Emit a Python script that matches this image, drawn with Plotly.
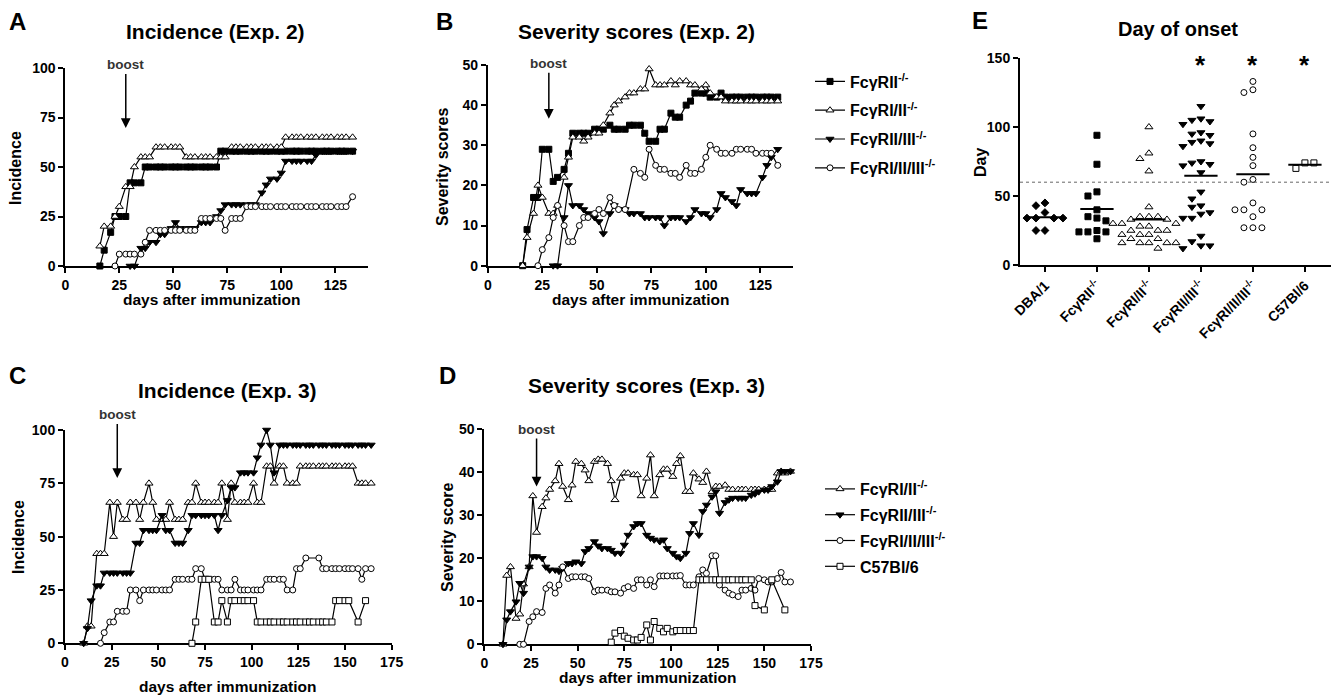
import numpy as np
import plotly.graph_objects as go

# The page body has an 8 px margin; the figure is offset by it, so every
# reference pixel position is shifted by that margin (figure fills to the
# window's right/bottom edges).
W, H = 1339, 697
OFF = 8
FW, FH = W - OFF, H - OFF
FONT = "Liberation Sans, Arial, Helvetica, sans-serif"

def fx(p):
    return (p - OFF) / FW

def fy(p):
    return 1 - (p - OFF) / FH

def dom(a, b):
    return [max(0.0, min(1.0, a)), max(0.0, min(1.0, b))]

# ---------------- DATA ----------------
# Experiment 2 (panels A, B)
days2 = [16, 18, 21, 23, 25, 28, 30, 32, 35, 37,
         39, 42, 44, 46, 49, 51, 53, 56, 58, 60,
         63, 65, 67, 70, 72, 74, 77, 79, 81, 84,
         86, 88, 91, 93, 95, 98, 100, 102, 105, 107,
         109, 112, 114, 116, 119, 121, 123, 126, 128, 130,
         133]

inc2_RII = [0, 8, 17, 25, 25, 25, 42, 42, 42, 50,
            50, 50, 50, 50, 50, 50, 50, 50, 50, 50,
            50, 50, 50, 50, 58, 58, 58, 58, 58, 58,
            58, 58, 58, 58, 58, 58, 58, 58, 58, 58,
            58, 58, 58, 58, 58, 58, 58, 58, 58, 58,
            58]
inc2_RI_II = [10, 20, 20, 25, 30, 40, 40, 50, 55, 55,
              55, 60, 60, 60, 60, 60, 60, 55, 55, 55,
              55, 55, 55, 55, 55, 55, 60, 60, 60, 60,
              60, 60, 60, 60, 60, 60, 60, 65, 65, 65,
              65, 65, 65, 65, 65, 65, 65, 65, 65, 65,
              65]
inc2_RII_III = [None, None, None, None, None, None, 0, 0, 9, 9,
                12, 12, 16, 16, 19, 22, 19, 19, 19, 19,
                22, 22, 22, 25, 28, 31, 31, 31, 31, 31,
                31, 31, 37, 41, 44, 44, 47, 53, 53, 53,
                53, 53, 53, 56, 58, 58, 58, 58, 58, 58,
                58]
inc2_RI_II_III = [None, None, None, 0, 6, 6, 6, 6, 6, 12,
                  18, 18, 18, 18, 18, 18, 18, 18, 18, 18,
                  24, 24, 24, 24, 24, 18, 24, 24, 24, 30,
                  30, 30, 30, 30, 30, 30, 30, 30, 30, 30,
                  30, 30, 30, 30, 30, 30, 30, 30, 30, 30,
                  35]

sev2_RII = [0, 9, 17, 17, 29, 29, 21, 22, 24, 28,
            33, 33, 33, 33, 34, 34, 34, 35, 34, 34,
            34, 35, 35, 35, 33, 31, 31, 34, 34, 38,
            37, 37, 40, 41, 43, 43, 43, 42, 42, 43,
            42, 42, 42, 42, 42, 42, 42, 42, 42, 42,
            42]
sev2_RI_II = [0, 7, 13, 20, 17, 13, 13, 15, 22, 27,
              32, 32, 31, 32, 33, 33, 35, 38, 40, 41,
              42, 43, 43, 44, 44, 49, 45, 45, 45, 46,
              45, 46, 46, 45, 45, 44, 45, 43, 42, 42,
              41, 41, 41, 41, 41, 41, 41, 41, 41, 41,
              41]
sev2_RII_III = [None, None, None, None, None, None, 0, 0, 12, 20,
                15, 15, 14, 13, 12, 11, 8, 13, 15, 14,
                14, 13, 13, 13, 12, 12, 12, 12, 10, 12,
                12, 12, 11, 12, 14, 13, 13, 12, 14, 18,
                17, 16, 15, 19, 18, 18, 18, 22, 25, 27,
                29]
sev2_RI_II_III = [None, None, None, 0, 4, 7, 12, 15, 10, 6,
                  6, 10, 12, 12, 13, 14, 13, 17, 15, 14,
                  14, None, 24, 23, 22, 29, 25, 24, 24, 23,
                  23, 22, 25, 23, 23, 24, 27, 30, 29, 28,
                  28, 28, 29, 29, 29, 29, 28, 28, 28, 28,
                  25]

# Experiment 3 (panels C, D)
days3 = [10, 12, 14, 17, 19, 21, 24, 26, 28, 31,
         33, 35, 38, 40, 42, 45, 47, 49, 52, 54,
         56, 59, 61, 63, 66, 68, 70, 73, 75, 77,
         80, 82, 84, 87, 89, 91, 94, 96, 98, 101,
         103, 105, 108, 110, 112, 115, 117, 119, 122, 124,
         126, 129, 131, 133, 136, 138, 140, 143, 145, 147,
         150, 152, 154, 157, 159, 161, 164]

inc3_RI_II = [0, 8, 8, 42, 42, 42, 66, 50, 66, 58,
              58, 66, 66, 58, 66, 75, 66, 58, 58, 58,
              66, 58, 58, 58, 66, 66, 75, 66, 66, 66,
              66, 66, 75, 58, 75, 66, 66, 66, 66, 75,
              66, 66, 83, 83, 75, 83, 83, 75, 75, 75,
              83, 83, 83, 83, 83, 83, 83, 83, 83, 83,
              83, 83, 83, 75, 75, 75, 75]
inc3_RII_III = [0, 7, 20, 27, 27, 33, 33, 33, 33, 33,
                33, 33, 47, 47, 53, 53, 53, 53, 60, 53,
                53, 47, 47, 47, 53, 60, 60, 60, 60, 60,
                60, 53, 60, 67, 73, 73, 80, 80, 80, 80,
                87, 93, 100, 93, 80, 93, 93, 93, 93, 93,
                93, 93, 93, 93, 93, 93, 93, 93, 93, 93,
                93, 93, 93, 93, 93, 93, 93]
inc3_RI_II_III = [None, None, None, None, 0, 5, 10, 10, 15, 15,
                  15, 25, 25, 20, 25, 25, 25, 25, 25, 25,
                  25, 30, 30, 30, 30, 30, 35, 35, 30, 30,
                  30, 30, 25, 25, 25, 30, 25, 25, 25, 25,
                  25, 25, 30, 30, 30, 30, 30, 25, 25, 35,
                  35, 40, None, None, 40, 35, 35, 35, 35, 35,
                  35, 35, 35, 35, 30, 35, 35]
inc3_C57 = [None, None, None, None, None, None, None, None, None, None,
            None, None, None, None, None, None, None, None, None, None,
            None, None, None, None, None, 0, 10, 30, 30, 30,
            10, 10, 20, 10, 20, 20, 20, 20, 20, 20,
            10, 10, 10, 10, 10, 10, 10, 10, 10, 10,
            10, 10, 10, 10, 10, 10, 10, 10, 20, 20,
            20, 20, None, 10, None, 20, None]

sev3_RI_II = [0, 16, 18, 6, 7, 14, 18, 34.5, 26, 32,
              34, 36, 38, 42, 36.7, 33.6, 37, 42.5, 42, 40.5,
              38, 42.5, 43, 43, 42, 38, 33.6, 38.6, 39.8, 39.8,
              39.4, 39.4, 34.5, 38.6, 44, 34.5, 39.4, 40.7, 40.7, 39,
              42, 43.8, 35.5, 35.5, 39.8, 38.4, 37.6, 40.2, 35.5, 36.7,
              36.7, 37, 36, 36, 36, 36, 36, 36, 36, 36,
              36, 36, 36, 39.8, 40.2, 39.8, 40.2]
sev3_RII_III = [0, 5.7, 7.6, 9.9, 14.2, 11.9, 18, 20.4, 20.4, 20,
                18, 17.3, 17.3, 17, 17.7, 18.8, 18.8, 19.2, 18.8, 21.6,
                22.3, 23.9, 22.9, 22.3, 22.3, 21.9, 21.2, 21.2, 23.1, 25.4,
                27.4, 28.1, 28.1, 25.4, 24.7, 24.3, 23.9, 24.3, 22.3, 21.2,
                20.4, 20, 21.2, 25.8, 28.1, 25.4, 30.9, 32.4, 34.3, 35.5,
                30.5, 33, 33.6, 34, 34, 34, 34, 34.7, 35, 35.5,
                35.9, 35.9, 36.7, 37.8, 40.2, 40.2, 40.2]
sev3_RI_II_III = [None, None, None, None, 0, 0, 5.3, 6.4, 7.6, 7.4,
                  13, 13.8, 11.9, 13.8, 18, 15.3, 15.7, 15.7, 15.7, 15.7,
                  15.3, 12.2, 12.6, 12.6, 12.6, 12.2, 12.2, 11.9, 13, 13.4,
                  13, 15, 15, 13.8, 15, 13.4, 15.9, 15.9, 15.9, 15.9,
                  15.9, 16, 13.8, 13.8, 13.8, 15.7, 17.3, 16.5, 20.6, 20.6,
                  13.8, 12.6, 11.9, 11.5, 11.1, 12.6, 12.6, 13, 12.6, 15.3,
                  15, 14.5, 14.5, 15.3, 16.7, 14.5, 14.5]
sev3_C57 = [None, None, None, None, None, None, None, None, None, None,
            None, None, None, None, None, None, None, None, None, None,
            None, None, None, None, None, 0.5, 2.6, 3.2, 1.9, 1.4,
            1, 1, 1.6, 4.5, 1, 5.3, 3.7, 2.9, 3.7, 2.9,
            3.2, 3.2, 3.2, 3.2, 3.2, 15, 15, 15, 15, 15,
            15, 15, 15, 15, 15, 15, 15, 15, 9, None,
            8, None, 15, None, None, 8, None]

# Panel E: day of onset per strain
onset_groups = ["DBA/1", "FcγRII<sup>-/-</sup>", "FcγRI/II<sup>-/-</sup>",
                "FcγRII/III<sup>-/-</sup>", "FcγRI/II/III<sup>-/-</sup>", "C57Bl/6"]
onset_DBA = [45, 43, 38, 34, 34, 34, 34, 25, 25]
onset_RII = [94, 73, 53, 50, 40, 35, 34, 32, 25, 24, 24, 24, 19]
onset_RI_II = [100, 81, 77, 68, 42, 35, 35, 35, 33, 33, 30, 30, 30, 28, 28,
               25, 25, 25, 22, 22, 22, 19, 19, 16, 16, 16, 16, 16, 12]
onset_RII_III = [115, 106, 105, 104, 102, 96, 95, 94, 90, 89, 88, 86, 75, 74, 73,
                 72, 67, 53, 48, 43, 42, 38, 37, 34, 34, 21, 17, 14, 14, 12]
onset_RI_II_III = [133, 127, 125, 95, 85, 78, 72, 62, 60, 45, 40, 40, 40, 35, 27, 27, 27]
onset_C57 = [74, 70, 74]
onset_significant = [False, False, False, True, True, True]
onset_threshold = 60

# ---------------- STYLES ----------------
NAMES = {
    "RII": "FcγRII<sup>-/-</sup>",
    "RI_II": "FcγRI/II<sup>-/-</sup>",
    "RII_III": "FcγRII/III<sup>-/-</sup>",
    "RI_II_III": "FcγRI/II/III<sup>-/-</sup>",
    "C57": "C57Bl/6",
}
MK = {
    "RII": dict(symbol="square", size=6, color="black", line=dict(color="black", width=1)),
    "RI_II": dict(symbol="triangle-up", size=7, color="white", line=dict(color="black", width=1)),
    "RII_III": dict(symbol="triangle-down", size=7, color="black", line=dict(color="black", width=1)),
    "RI_II_III": dict(symbol="circle", size=6, color="white", line=dict(color="black", width=1)),
    "C57": dict(symbol="square", size=6, color="white", line=dict(color="black", width=1)),
    "DBA": dict(symbol="diamond", size=6, color="black", line=dict(color="black", width=1)),
}

fig = go.Figure()

def add_series(x, y, key, xa, ya, legend=None):
    fig.add_trace(go.Scatter(
        x=x, y=y, mode="lines+markers", name=NAMES[key],
        line=dict(color="black", width=1.2), marker=MK[key],
        xaxis=xa, yaxis=ya, cliponaxis=False, connectgaps=True,
        showlegend=legend is not None, legend=legend if legend else "legend",
        legendgroup=(legend or "") + key, hoverinfo="skip"))

# A
add_series(days2, inc2_RII, "RII", "x", "y")
add_series(days2, inc2_RI_II, "RI_II", "x", "y")
add_series(days2, inc2_RII_III, "RII_III", "x", "y")
add_series(days2, inc2_RI_II_III, "RI_II_III", "x", "y")
# B
add_series(days2, sev2_RII, "RII", "x2", "y2", "legend")
add_series(days2, sev2_RI_II, "RI_II", "x2", "y2", "legend")
add_series(days2, sev2_RII_III, "RII_III", "x2", "y2", "legend")
add_series(days2, sev2_RI_II_III, "RI_II_III", "x2", "y2", "legend")
# C
add_series(days3, inc3_RI_II, "RI_II", "x3", "y3")
add_series(days3, inc3_RII_III, "RII_III", "x3", "y3")
add_series(days3, inc3_RI_II_III, "RI_II_III", "x3", "y3")
add_series(days3, inc3_C57, "C57", "x3", "y3")
# D
add_series(days3, sev3_RI_II, "RI_II", "x4", "y4", "legend2")
add_series(days3, sev3_RII_III, "RII_III", "x4", "y4", "legend2")
add_series(days3, sev3_RI_II_III, "RI_II_III", "x4", "y4", "legend2")
add_series(days3, sev3_C57, "C57", "x4", "y4", "legend2")

# E: scatter with simple beeswarm offsets
E_X_PX = 52.0          # pixels per category
E_Y_PX = 207.0 / 150   # pixels per day

def swarm(vals, step=9.0, mind=7.5):
    placed = []
    offs = []
    for v in vals:
        for k in range(0, 40):
            c = (k + 1) // 2 * (-1 if k % 2 else 1)
            xo = c * step
            if all(abs(xo - px) >= mind or abs(v - py) * E_Y_PX >= mind for px, py in placed):
                break
        placed.append((xo, v))
        offs.append(xo / E_X_PX)
    return offs

e_sets = [onset_DBA, onset_RII, onset_RI_II, onset_RII_III, onset_RI_II_III, onset_C57]
e_keys = ["DBA", "RII", "RI_II", "RII_III", "RI_II_III", "C57"]
shapes = []
for i, (vals, key) in enumerate(zip(e_sets, e_keys)):
    offs = swarm(vals)
    fig.add_trace(go.Scatter(
        x=[i + o for o in offs], y=vals, mode="markers", marker=MK[key],
        xaxis="x5", yaxis="y5", cliponaxis=False, showlegend=False, hoverinfo="skip"))
    m = float(np.mean(vals))
    shapes.append(dict(type="line", xref="x5", yref="y5", x0=i - 0.32, x1=i + 0.32,
                       y0=m, y1=m, line=dict(color="black", width=2)))
shapes.append(dict(type="line", xref="x5", yref="y5", x0=-0.48, x1=5.54,
                   y0=onset_threshold, y1=onset_threshold,
                   line=dict(color="#666666", width=1, dash="dot"), layer="below"))

# ---------------- LAYOUT ----------------
def ax(domain, rng, tickvals, anchor, size=14, **kw):
    d = dict(domain=domain, range=rng, tickvals=tickvals, anchor=anchor,
             showline=True, linecolor="black", linewidth=2, ticks="outside",
             ticklen=5, tickwidth=2, tickcolor="black", showgrid=False, zeroline=False,
             tickfont=dict(family=FONT, size=size, color="black", weight="bold"),
             layer="below traces", fixedrange=True, automargin=False)
    d.update(kw)
    return d

lay = dict(
    xaxis=ax(dom(fx(65.3), fx(367.7)), [0, 140], [0, 25, 50, 75, 100, 125], "y"),
    yaxis=ax(dom(fy(266), fy(68)), [0, 100], [0, 25, 50, 75, 100], "x"),
    xaxis2=ax(dom(fx(487.8), fx(793)), [0, 140], [0, 25, 50, 75, 100, 125], "y2"),
    yaxis2=ax(dom(fy(265.7), fy(65)), [0, 50], [0, 10, 20, 30, 40, 50], "x2"),
    xaxis3=ax(dom(fx(65), fx(391.7)), [0, 175], [0, 25, 50, 75, 100, 125, 150, 175], "y3"),
    yaxis3=ax(dom(fy(643.3), fy(430)), [0, 100], [0, 25, 50, 75, 100], "x3"),
    xaxis4=ax(dom(fx(484.3), fx(811)), [0, 175], [0, 25, 50, 75, 100, 125, 150, 175], "y4"),
    yaxis4=ax(dom(fy(644.3), fy(429.3)), [0, 50], [0, 10, 20, 30, 40, 50], "x4"),
    xaxis5=ax(dom(fx(1020), fx(1333)), [-0.48, 5.54], list(range(6)), "y5", size=14,
              ticktext=onset_groups, tickangle=-45),
    yaxis5=ax(dom(fy(265), fy(58)), [0, 150], [0, 50, 100, 150], "x5"),
)

ann = []
def txt(x, y, s, size, angle=0, color="black"):
    ann.append(dict(xref="paper", yref="paper", x=fx(x), y=fy(y), text=s, showarrow=False,
                    xanchor="center", yanchor="middle", textangle=angle,
                    font=dict(family=FONT, size=size, color=color, weight="bold")))

# panel letters
txt(17, 22, "A", 24); txt(444, 22, "B", 24); txt(17, 375, "C", 24)
txt(447, 375, "D", 24); txt(980, 21, "E", 24)
# titles
txt(215, 32, "Incidence (Exp. 2)", 21)
txt(636, 32, "Severity scores (Exp. 2)", 21)
txt(227, 390, "Incidence (Exp. 3)", 21)
txt(646, 385, "Severity scores (Exp. 3)", 21)
txt(1178, 29, "Day of onset", 20)
# axis titles
txt(212, 300, "days after immunization", 15.5)
txt(640, 300, "days after immunization", 15.5)
txt(227, 686, "days after immunization", 15.5)
txt(647, 677, "days after immunization", 15.5)
txt(15, 168, "Incidence", 16, -90)
txt(442, 167, "Severity scores", 16, -90)
txt(18, 537, "Incidence", 16, -90)
txt(447, 537, "Severity score", 16, -90)
txt(980, 163, "Day", 16, -90)

# boost arrows
for xr, yr, tipv, dy in [("x", "y", 69.7, 63), ("x2", "y2", 36.6, 55),
                         ("x3", "y3", 77.5, 63), ("x4", "y4", 36.7, 57)]:
    ann.append(dict(xref=xr, yref=yr, x=28, y=tipv, ax=0, ay=-dy, text="boost",
                    showarrow=True, arrowhead=2, arrowsize=1.3, arrowwidth=1.5,
                    arrowcolor="black",
                    font=dict(family=FONT, size=13.5, color="#333333", weight="bold")))

# significance stars
for i, sig in enumerate(onset_significant):
    if sig:
        ann.append(dict(xref="x5", yref="y5", x=i, y=145, text="*", showarrow=False,
                        font=dict(family=FONT, size=26, color="black", weight="bold")))

legfont = dict(family=FONT, size=16, color="black", weight="bold")
fig.update_layout(
    template="none",
    width=FW, height=FH, autosize=False,
    margin=dict(l=0, r=0, t=0, b=0, pad=0),
    paper_bgcolor="white", plot_bgcolor="white",
    annotations=ann, shapes=shapes,
    legend=dict(x=fx(810), y=fy(64.5), xanchor="left", yanchor="top", font=legfont,
                bgcolor="rgba(0,0,0,0)", tracegroupgap=5, itemwidth=30,
                traceorder="grouped"),
    legend2=dict(x=fx(820), y=fy(472), xanchor="left", yanchor="top", font=legfont,
                 bgcolor="rgba(0,0,0,0)", tracegroupgap=2, itemwidth=30,
                 traceorder="grouped"),
    **lay,
)

fig.write_html("out.html")
